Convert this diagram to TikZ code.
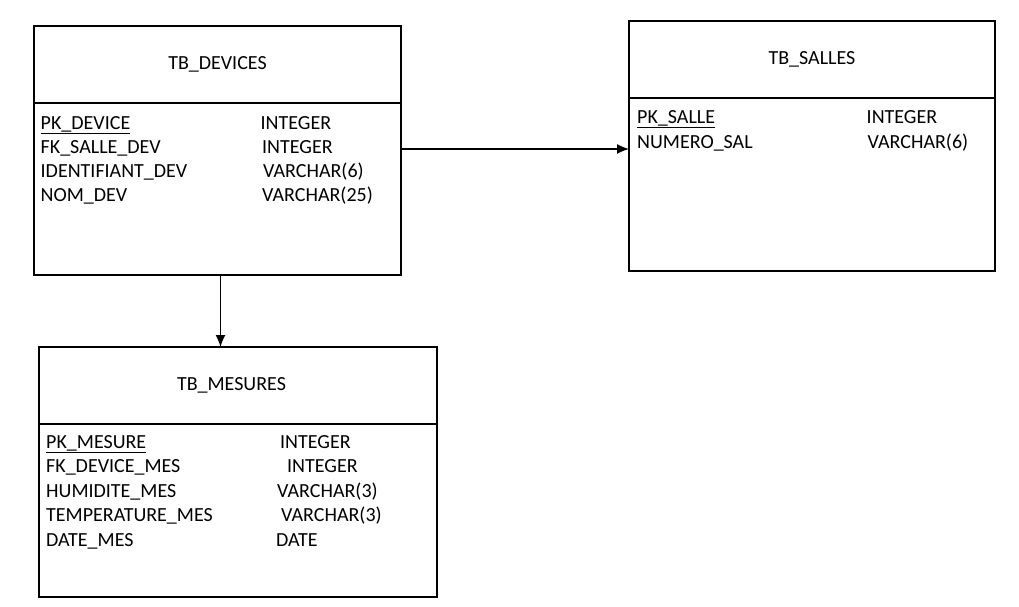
\documentclass[tikz,border=0pt]{standalone}
\usepackage{fontspec}
\setmainfont{Carlito}
\usetikzlibrary{positioning,arrows.meta}
\newcommand*{\champ}[3]{%
  \node [field] (#1) at (#2) {#3};
}

\begin{document}
\begin{tikzpicture}[x=1pt, y=-1pt,
    every node/.style = {font=\fontsize{20}{24}\selectfont},
    tbl/.style   = {draw, line width=1.2pt, outer sep=0pt, inner sep=0pt, minimum width=#1},
    head/.style  = {tbl=#1, minimum height=77pt},
    body/.style  = {tbl=#1, minimum height=172pt},
    field/.style = {anchor=base west, inner sep=0pt},
    link/.style  = {line width=1.3pt, -{Latex[length=12pt, width=10pt]}}]
  \useasboundingbox (0,0) rectangle (1019,607);

  \node[head=367pt, anchor=north west] (dev_head) at (34,26) {TB\_DEVICES};
  \node[body=367pt, below=0pt of dev_head] (dev_body) {};

  \node[head=366pt, anchor=north west] (sal_head) at (629,21) {TB\_SALLES};
  \node[body=366pt, below=0pt of sal_head, minimum height=173pt] (sal_body) {};

  \node[head=398pt, anchor=north west] (mes_head) at (39,347) {TB\_MESURES\hspace*{13pt}};
  \node[body=398pt, below=0pt of mes_head, minimum height=173pt] (mes_body) {};

  \champ{pk_device}{40.5,129.5}{\underline{PK\_DEVICE}}
  \champ{pk_device_t}{260.5,129.5}{INTEGER}
  \champ{fk_salle_dev}{40.5,153.3}{FK\_SALLE\_DEV}
  \champ{fk_salle_dev_t}{262,153.3}{INTEGER}
  \champ{identifiant_dev}{40.5,177}{IDENTIFIANT\_DEV}
  \champ{identifiant_dev_t}{263,177}{VARCHAR(6)}
  \champ{nom_dev}{40.5,201}{NOM\_DEV}
  \champ{nom_dev_t}{262,201}{VARCHAR(25)}

  \champ{pk_salle}{637,123.5}{\underline{PK\_SALLE}}
  \champ{pk_salle_t}{866.5,123.5}{INTEGER}
  \champ{numero_sal}{637,148}{NUMERO\_SAL}
  \champ{numero_sal_t}{867.5,148}{VARCHAR(6)}

  \champ{pk_mesure}{46,448}{\underline{PK\_MESURE}}
  \champ{pk_mesure_t}{280,448}{INTEGER}
  \champ{fk_device_mes}{46,472.5}{FK\_DEVICE\_MES}
  \champ{fk_device_mes_t}{287,472.5}{INTEGER}
  \champ{humidite_mes}{46,497}{HUMIDITE\_MES}
  \champ{humidite_mes_t}{277,497}{VARCHAR(3)}
  \champ{temperature_mes}{46,521.5}{TEMPERATURE\_MES}
  \champ{temperature_mes_t}{281,521.5}{VARCHAR(3)}
  \champ{date_mes}{46,546}{DATE\_MES}
  \champ{date_mes_t}{276,546}{DATE}

  \coordinate (dev_out) at ([yshift=-46pt]dev_body.north east);
  \draw[link] (dev_out) -- (dev_out -| sal_body.west);
  \coordinate (dev_bas) at ([xshift=3pt]dev_body.south);
  \draw[link] (dev_bas) -- (dev_bas |- mes_head.north);
\end{tikzpicture}
\end{document}
